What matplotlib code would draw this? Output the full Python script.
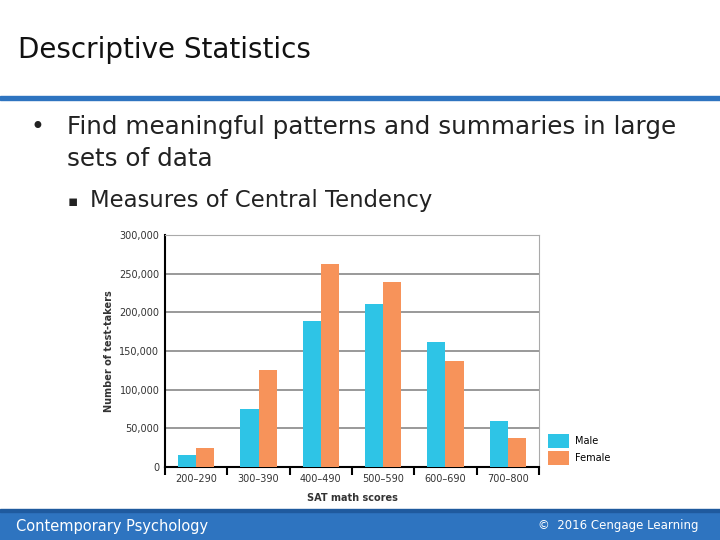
import matplotlib.pyplot as plt
import numpy as np
from matplotlib.patches import Rectangle

categories = ['200–290', '300–390', '400–490', '500–590', '600–690', '700–800']
male = [16000, 75000, 189000, 211000, 161000, 60000]
female = [25000, 125000, 263000, 239000, 137000, 37000]
yticks = [0, 50000, 100000, 150000, 200000, 250000, 300000]

BLUE = '#2e74c0'
CYAN = '#2ec4e6'
ORANGE = '#f7935a'

fig = plt.figure(figsize=(7.2, 5.4), dpi=100)
fig.patch.set_facecolor('white')

# slide decoration
fig.text(18/720, 1-50/540, 'Descriptive Statistics', fontsize=20, va='center', color='#111111')
fig.add_artist(Rectangle((0, 1-100/540), 1, 4/540, color=BLUE, transform=fig.transFigure))
fig.text(30/720, 1-127/540, '•', fontsize=17, va='center', color='#222222')
fig.text(67/720, 1-127/540, 'Find meaningful patterns and summaries in large', fontsize=17.7, va='center', color='#222222')
fig.text(67/720, 1-159/540, 'sets of data', fontsize=17.7, va='center', color='#222222')
fig.text(68/720, 1-201/540, '▪', fontsize=11, va='center', color='#222222')
fig.text(90/720, 1-201/540, 'Measures of Central Tendency', fontsize=16.4, va='center', color='#222222')
fig.add_artist(Rectangle((0, 0), 1, 28/540, color=BLUE, transform=fig.transFigure))
fig.add_artist(Rectangle((0, 28/540), 1, 3/540, color='#1f5a9e', transform=fig.transFigure))
fig.text(16/720, 13/540, 'Contemporary Psychology', fontsize=10.5, va='center', color='white')
fig.text(538/720, 14/540, '©  2016 Cengage Learning', fontsize=8.5, va='center', color='white')

ax = fig.add_axes([165/720, 1-467/540, 374/720, 232/540])
x = np.arange(len(categories))
w = 0.29
ax.bar(x - w/2, male, w, color=CYAN, label='Male', zorder=3)
ax.bar(x + w/2, female, w, color=ORANGE, label='Female', zorder=3)
ax.set_ylim(0, 300000)
ax.set_xlim(-0.5, len(categories) - 0.5)
ax.set_yticks(yticks)
ax.set_yticklabels([f'{v:,}' for v in yticks], fontsize=7, color='#333333')
ax.grid(axis='y', color='#888888', linewidth=1.2, zorder=0)
ax.set_xticks(np.arange(-0.5, len(categories)), minor=False)
ax.set_xticklabels([''] * (len(categories) + 1))
ax.tick_params(axis='x', length=6, width=1.5, direction='out')
ax.tick_params(axis='y', length=0, pad=4)
for i, c in enumerate(categories):
    ax.text(i, -0.03, c, transform=ax.get_xaxis_transform(), ha='center', va='top', fontsize=7, color='#333333')
ax.set_xlabel('SAT math scores', fontsize=7, fontweight='bold', color='#333333', labelpad=9)
ax.set_ylabel('Number of test-takers', fontsize=7, fontweight='bold', color='#333333', labelpad=4)
for s in ['top', 'right']:
    ax.spines[s].set_color('#aaaaaa')
ax.spines['left'].set_linewidth(1.5)
ax.spines['bottom'].set_linewidth(1.5)
ax.legend(loc='lower left', bbox_to_anchor=(1.0, -0.03), frameon=False, fontsize=7,
          handlelength=2.2, handleheight=1.9, labelspacing=0.25, handletextpad=0.6)

fig.savefig('out.png', dpi=100)
